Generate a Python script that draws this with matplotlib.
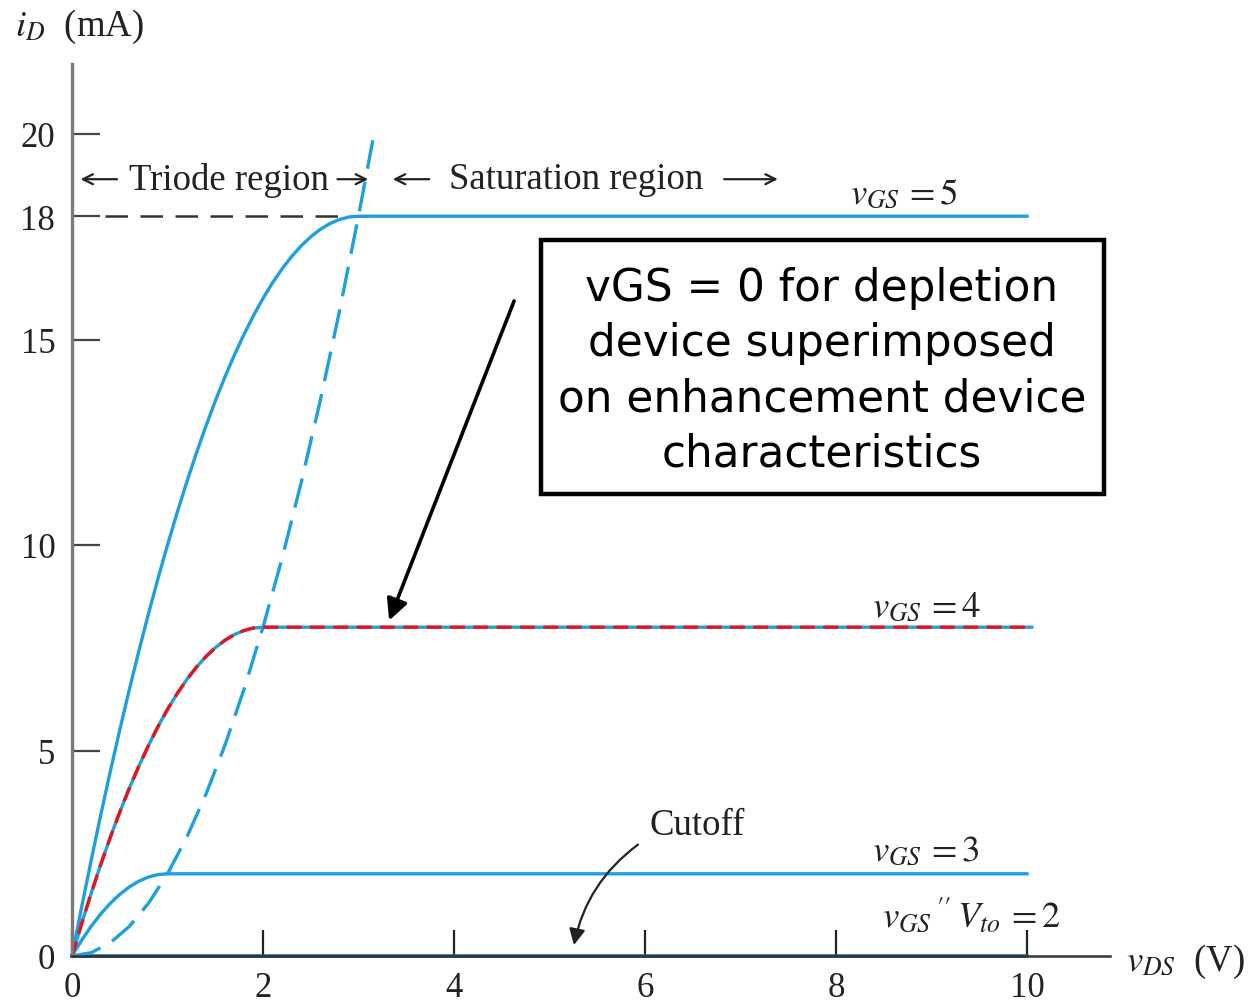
import matplotlib
matplotlib.use("Agg")
import matplotlib.pyplot as plt
from matplotlib.patches import Rectangle

plt.rcParams['font.family'] = ['Liberation Serif', 'DejaVu Serif']
plt.rcParams['mathtext.fontset'] = 'stix'

# ---- data ----
vds_5 = [0, 0.1, 0.2, 0.3, 0.4, 0.5, 0.6, 0.7, 0.8, 0.9, 1.0, 1.1, 1.2, 1.3, 1.4, 1.5,
         1.6, 1.7, 1.8, 1.9, 2.0, 2.1, 2.2, 2.3, 2.4, 2.5, 2.6, 2.7, 2.8, 2.9, 3.0, 10.0]
id_5 = [0, 1.18, 2.32, 3.42, 4.48, 5.5, 6.48, 7.42, 8.32, 9.18, 10.0, 10.78, 11.52, 12.22,
        12.88, 13.5, 14.08, 14.62, 15.12, 15.58, 16.0, 16.38, 16.72, 17.02, 17.28, 17.5,
        17.68, 17.82, 17.92, 17.98, 18.0, 18.0]
vds_4 = [0, 0.1, 0.2, 0.3, 0.4, 0.5, 0.6, 0.7, 0.8, 0.9, 1.0, 1.1, 1.2, 1.3, 1.4, 1.5,
         1.6, 1.7, 1.8, 1.9, 2.0, 10.05]
id_4 = [0, 0.78, 1.52, 2.22, 2.88, 3.5, 4.08, 4.62, 5.12, 5.58, 6.0, 6.38, 6.72, 7.02,
        7.28, 7.5, 7.68, 7.82, 7.92, 7.98, 8.0, 8.0]
vds_3 = [0, 0.1, 0.2, 0.3, 0.4, 0.5, 0.6, 0.7, 0.8, 0.9, 1.0, 10.0]
id_3 = [0, 0.38, 0.72, 1.02, 1.28, 1.5, 1.68, 1.82, 1.92, 1.98, 2.0, 2.0]
vds_2 = [0, 10.0]
id_2 = [0, 0]
vds_edge = [0, 0.2, 0.4, 0.6, 0.8, 1.0, 1.2, 1.4, 1.6, 1.8, 2.0, 2.2, 2.4, 2.6, 2.8,
            3.0, 3.15]
id_edge = [0, 0.08, 0.32, 0.72, 1.28, 2.0, 2.88, 3.92, 5.12, 6.48, 8.0, 9.68, 11.52,
           13.52, 15.68, 18.0, 19.85]
vds_ref18 = [0.35, 3.1]
id_ref18 = [18, 18]
x_ticks = [0, 2, 4, 6, 8, 10]
y_ticks = [0, 5, 10, 15, 18, 20]

BLUE = '#1e9fe0'
TXT = '#222222'

fig = plt.figure(figsize=(12.52, 10.03), dpi=100)
ax = fig.add_axes([72/1252, 46/1003, (1110-72)/1252, (957-65)/1003])
ax.set_xlim(0, (1110-72)/95.5)
ax.set_ylim(0, (957-65)/41.1)
ax.patch.set_alpha(0)

for s in ['top', 'right']:
    ax.spines[s].set_visible(False)
ax.spines['left'].set_color('#7a7a7a')
ax.spines['left'].set_linewidth(2.4)
ax.spines['bottom'].set_color('#333333')
ax.spines['bottom'].set_linewidth(1.8)

ax.set_xticks(x_ticks)
ax.set_xticklabels([str(v) for v in x_ticks])
ax.set_yticks(y_ticks)
ax.set_yticklabels([str(v) for v in y_ticks])
ax.tick_params(axis='x', direction='in', length=19, width=1.6, color=TXT,
               labelsize=25, pad=11)
ax.tick_params(axis='y', direction='in', length=20, width=1.6, color='#444444',
               labelsize=25, pad=12)
for lab in ax.get_xticklabels() + ax.get_yticklabels():
    lab.set_color(TXT)

# curves
ax.plot(vds_ref18, id_ref18, color='#333333', lw=1.8, dashes=(9, 5))
ax.plot(vds_5, id_5, color=BLUE, lw=2.4, clip_on=False)
ax.plot(vds_4, id_4, color=BLUE, lw=2.4, clip_on=False)
ax.plot(vds_3, id_3, color=BLUE, lw=2.4, clip_on=False)
ax.plot(vds_2, id_2, color='#1d6a8e', lw=2.6, clip_on=False)
ax.plot(vds_edge, id_edge, color=BLUE, lw=2.4, dashes=(9, 4), clip_on=False)
ax.plot(vds_4, id_4, color='#e8141c', lw=2.4, dashes=(4.5, 2.5), clip_on=False)

# region arrows
ay = 18.9
ak = dict(arrowstyle='->', color=TXT, lw=1.6, mutation_scale=18)
ax.annotate('', xy=(0.06, ay), xytext=(0.5, ay), arrowprops=ak)
ax.annotate('', xy=(3.13, ay), xytext=(2.75, ay), arrowprops=ak)
ax.annotate('', xy=(3.33, ay), xytext=(3.77, ay), arrowprops=ak)
ax.annotate('', xy=(7.42, ay), xytext=(6.8, ay), arrowprops=ak)
ax.text(1.64, ay, 'Triode region', fontsize=26.5, ha='center', va='center', color=TXT)
ax.text(5.28, ay, 'Saturation region', fontsize=26.5, ha='center', va='center', color=TXT)

# vGS labels
lk = dict(fontsize=26.5, ha='left', va='center', color=TXT)
ax.text(8.15, 18.55, r'$v_{GS}\,{=}5$', **lk)
ax.text(8.38, 8.5, r'$v_{GS}\,{=}4$', **lk)
ax.text(8.38, 2.55, r'$v_{GS}\,{=}3$', **lk)
ax.text(8.48, 1.0, r"$v_{GS}\,{}^{\prime\prime}\,V_{to}\,{=}2$", **lk)

# cutoff
ax.text(6.05, 3.2, 'Cutoff', fontsize=26.5, ha='left', va='center', color=TXT)
ax.annotate('', xy=(5.25, 0.2), xytext=(5.95, 2.75),
            arrowprops=dict(arrowstyle='-|>', color=TXT, lw=1.6,
                            mutation_scale=24, connectionstyle='arc3,rad=0.2'))

# black annotation arrow
ax.annotate('', xy=(3.31, 8.1), xytext=(4.64, 16.0),
            arrowprops=dict(arrowstyle='-|>', color='black', lw=2.6,
                            mutation_scale=32))

# axis labels
fig.text(15/1252, 1 - 27/1003, r'$i_D$  (mA)', fontsize=26.5, ha='left', va='center',
         color=TXT)
fig.text(1126/1252, 1 - 962/1003, r'$v_{DS}$  (V)', fontsize=26.5, ha='left',
         va='center', color=TXT)

# box
fig.patches.append(Rectangle((541/1252, 1 - 495/1003), 563/1252, 254/1003,
                             transform=fig.transFigure, fill=True, facecolor='white',
                             edgecolor='black', lw=3.2, zorder=5))
fig.text(822/1252, 1 - 371/1003,
         'vGS = 0 for depletion\ndevice superimposed\non enhancement device\ncharacteristics',
         fontsize=31.5, ha='center', va='center', family=['DejaVu Sans'],
         linespacing=1.36, color='black', zorder=6)

fig.savefig('out.png', dpi=100, facecolor='white')
